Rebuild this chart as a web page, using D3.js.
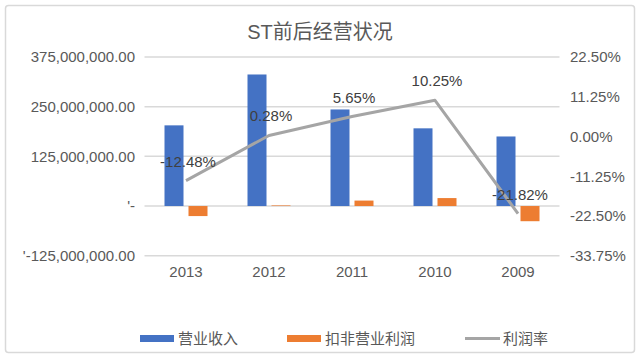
<!DOCTYPE html>
<html><head><meta charset="utf-8">
<script src="https://cdn.jsdelivr.net/npm/d3@7"></script>
<style>body{margin:0;background:#fff;} svg{display:block;}</style>
</head><body>
<script>
const categories = ["2013","2012","2011","2010","2009"];
const revenue = [203000000, 331000000, 243000000, 195500000, 175000000];
const netProfit = [-25300000, 1500000, 13700000, 20000000, -38200000];
const profitRate = [-12.48, 0.28, 5.65, 10.25, -21.82];
const rateLabels = ["-12.48%","0.28%","5.65%","10.25%","-21.82%"];
const leftTicks = [-125000000, 0, 125000000, 250000000, 375000000];
const leftTickLabels = ["'-125,000,000.00","'-","125,000,000.00","250,000,000.00","375,000,000.00"];
const rightTicks = [-33.75, -22.5, -11.25, 0, 11.25, 22.5];
const rightTickLabels = ["-33.75%","-22.50%","-11.25%","0.00%","11.25%","22.50%"];
const seriesNames = ["营业收入","扣非营业利润","利润率"];
const colors = ["#4472c4","#ed7d31","#a5a5a5"];

const W = 640, H = 359;
const font = "'Liberation Sans', Arial, 'Noto Sans CJK SC', sans-serif";
const svg = d3.select("body").append("svg").attr("width", W).attr("height", H);
svg.append("rect").attr("width", W).attr("height", H).attr("fill", "#fff");
svg.append("rect").attr("x", 5.5).attr("y", 5.5).attr("width", 629).attr("height", 347)
  .attr("rx", 3).attr("fill", "#fff").attr("stroke", "#d9d9d9").attr("stroke-width", 1.5);

const plotL = 144.5, plotR = 559.5, plotT = 57, plotB = 255.7;
const x = d3.scaleBand().domain(categories).range([plotL, plotR]).padding(0);
const yL = d3.scaleLinear().domain([-125000000, 375000000]).range([plotB, plotT]);
const yR = d3.scaleLinear().domain([-33.75, 22.5]).range([plotB, plotT]);
const x1 = d3.scaleBand().domain([0,1]).range([0, 43]).paddingInner(5/24).paddingOuter(0);

// title
svg.append("text").attr("x", 320).attr("y", 39).attr("text-anchor", "middle")
  .attr("font-family", font).attr("font-size", 20).attr("fill", "#595959").text("ST前后经营状况");

// gridlines
svg.append("g").selectAll("line").data(leftTicks).join("line")
  .attr("x1", plotL).attr("x2", plotR)
  .attr("y1", d => yL(d)).attr("y2", d => yL(d))
  .attr("stroke", "#d9d9d9").attr("stroke-width", 1.5);

// left axis labels
const axL = d3.axisLeft(yL).tickValues(leftTicks).tickSize(0).tickPadding(0)
  .tickFormat((d,i) => leftTickLabels[i]);
const gL = svg.append("g").attr("transform", `translate(135,0)`).call(axL);
gL.select(".domain").remove();
gL.selectAll("text").attr("font-family", font).attr("font-size", 15).attr("fill", "#595959");

// right axis labels
const axR = d3.axisRight(yR).tickValues(rightTicks).tickSize(0).tickPadding(0)
  .tickFormat((d,i) => rightTickLabels[i]);
const gR = svg.append("g").attr("transform", `translate(570,0)`).call(axR);
gR.select(".domain").remove();
gR.selectAll("text").attr("font-family", font).attr("font-size", 15).attr("fill", "#595959");

// x axis labels
const axX = d3.axisBottom(x).tickSize(0).tickPadding(0);
const gX = svg.append("g").attr("transform", `translate(0,266)`).call(axX);
gX.select(".domain").remove();
gX.selectAll("text").attr("font-family", font).attr("font-size", 15).attr("fill", "#595959");

const groupOff = c => x(c) + x.bandwidth()/2 - 21.5;

// bars
[revenue, netProfit].forEach((vals, s) => {
  svg.append("g").selectAll("rect").data(categories).join("rect")
    .attr("x", (c) => groupOff(c) + x1(s))
    .attr("width", x1.bandwidth())
    .attr("y", (c,i) => yL(Math.max(0, vals[i])))
    .attr("height", (c,i) => Math.abs(yL(vals[i]) - yL(0)))
    .attr("fill", colors[s]);
});

// line
const line = d3.line().x((d,i) => x(categories[i]) + x.bandwidth()/2).y(d => yR(d));
svg.append("path").datum(profitRate).attr("d", line).attr("fill", "none")
  .attr("stroke", colors[2]).attr("stroke-width", 3).attr("stroke-linejoin", "round");

// data labels
svg.append("g").selectAll("text").data(profitRate).join("text")
  .attr("x", (d,i) => x(categories[i]) + x.bandwidth()/2 + 2)
  .attr("y", d => yR(d) - 14)
  .attr("text-anchor", "middle")
  .attr("font-family", font).attr("font-size", 15).attr("fill", "#404040")
  .text((d,i) => rateLabels[i]);

// legend
const legX = [140, 287, 465];
const lg = svg.append("g");
seriesNames.forEach((n, i) => {
  if (i < 2) {
    lg.append("rect").attr("x", legX[i]).attr("y", 335).attr("width", 34).attr("height", 7).attr("fill", colors[i]);
  } else {
    lg.append("line").attr("x1", legX[i]).attr("x2", legX[i] + 35).attr("y1", 338.5).attr("y2", 338.5)
      .attr("stroke", colors[i]).attr("stroke-width", 3);
  }
  lg.append("text").attr("x", legX[i] + 38).attr("y", 344).attr("font-family", font)
    .attr("font-size", 15).attr("fill", "#595959").text(n);
});
</script>
</body></html>
